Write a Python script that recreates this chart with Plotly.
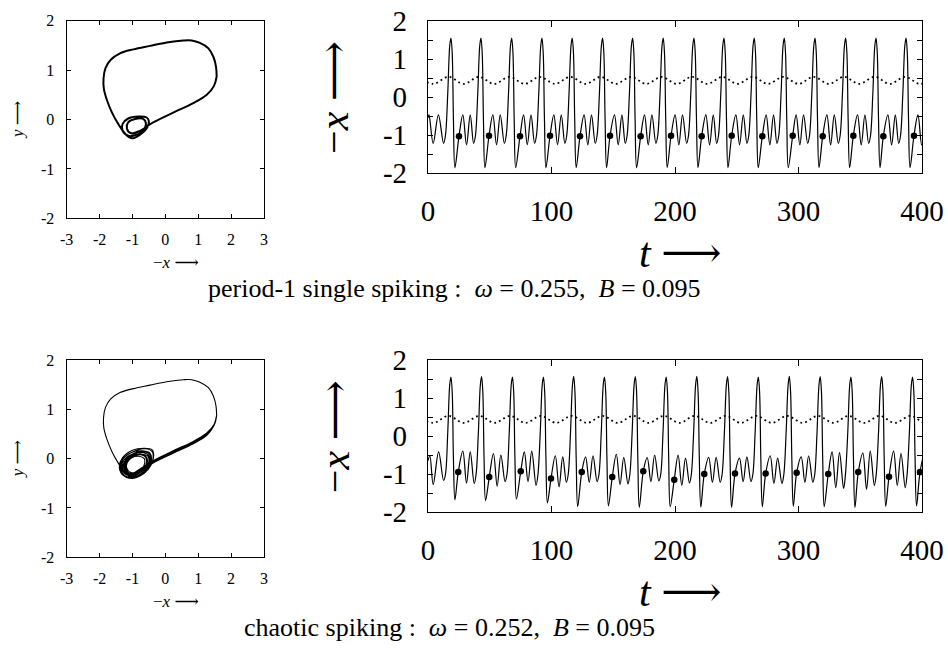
import plotly.graph_objects as go

W, H = 948, 651
FONT = "Liberation Serif"

# ------------------------------------------------------------------
# Time-series data
# ------------------------------------------------------------------
cyc_pre_dt = [-6.0, -4.5, -2.6, -1.0, 0.0, 1.0, 2.0, 3.2]
cyc_post_dt = [9.6, 12.6, 15.6]
cyc_mid_vals = [-1.02, 0.10, 1.35]
cyc_fall_vals = [1.15, -0.60]

p1_lead_t = [0.0, 0.8, 4.2, 8.4]
p1_lead_x = [-0.55, -0.47, -1.22, -0.47]
p1_spike_t = [18.6, 42.9, 67.8, 92.3, 116.8, 141.4, 165.7, 190.5,
              215.4, 239.7, 264.2, 288.5, 313.4, 338.2, 362.8, 387.1]
p1_trough_pre = [-1.22] * 16
p1_peak = [1.55] * 16
p1_min = [-1.86] * 16
p1_pA = [-0.47] * 16
p1_tA = [-1.26] * 16
p1_pB = [-0.47] * 16
p1_dot_t = [25.1, 49.4, 74.5, 98.8, 123.1, 147.4, 172.2, 196.8,
            221.6, 245.9, 270.7, 295.3, 319.6, 344.4, 368.7, 393.5]
p1_dot_x = [-1.03, -1.02, -1.03, -1.02, -1.03, -1.02, -1.03, -1.02,
            -1.03, -1.02, -1.03, -1.02, -1.03, -1.02, -1.03, -1.02]
p1_fmax_t = [-8.0, 16.6, 41.2, 65.9, 90.5, 115.2, 139.8, 164.4, 189.1,
             213.7, 238.4, 263.0, 287.6, 312.3, 336.9, 361.6, 386.2, 410.8]
p1_fmin_t = [4.3, 28.9, 53.6, 78.2, 102.8, 127.5, 152.1, 176.8, 201.4,
             226.0, 250.7, 275.3, 300.0, 324.6, 349.2, 373.9, 398.5]

ch_lead_t = [0.0, 1.5, 4.2, 8.6]
ch_lead_x = [-0.65, -0.52, -1.28, -0.42]
ch_spike_t = [18.6, 43.4, 68.4, 93.5, 118.0, 142.9, 167.9, 192.9,
              217.7, 242.6, 267.5, 292.6, 317.6, 342.5, 367.4, 392.4]
ch_trough_pre = [-1.17, -1.25, -1.20, -1.30, -1.22, -1.20, -1.26, -1.18,
                 -1.24, -1.22, -1.20, -1.25, -1.22, -1.38, -1.30, -1.36]
ch_peak = [1.55, 1.56, 1.55, 1.55, 1.57, 1.55, 1.56, 1.55,
           1.57, 1.56, 1.55, 1.57, 1.56, 1.55, 1.56, 1.55]
ch_min = [-1.68, -1.70, -1.66, -1.76, -1.86, -1.84, -1.88, -1.86,
          -1.87, -1.88, -1.86, -1.85, -1.86, -1.88, -1.85, -1.84]
ch_pA = [-0.40, -0.46, -0.42, -0.52, -0.55, -0.48, -0.57, -0.50,
         -0.56, -0.58, -0.52, -0.55, -0.42, -0.45, -0.40, -0.46]
ch_tA = [-1.24, -1.32, -1.20, -1.34, -1.22, -1.28, -1.20, -1.30,
         -1.22, -1.20, -1.25, -1.22, -1.36, -1.40, -1.30, -1.38]
ch_pB = [-0.42, -0.50, -0.40, -0.55, -0.52, -0.56, -0.50, -0.58,
         -0.56, -0.55, -0.58, -0.52, -0.44, -0.40, -0.46, -0.42]
ch_dot_t = [24.5, 49.6, 75.1, 99.6, 124.5, 149.2, 174.3, 199.4,
            223.7, 248.6, 273.4, 298.5, 324.1, 348.4, 373.3, 398.4]
ch_dot_x = [-0.95, -1.08, -0.93, -1.12, -0.95, -1.08, -0.93, -1.15,
            -1.00, -0.99, -0.99, -0.97, -1.00, -0.95, -1.07, -0.95]
ch_fmax_t = [-8.3, 16.6, 41.5, 66.5, 91.4, 116.3, 141.3, 166.2, 191.1,
             216.0, 241.0, 265.9, 290.8, 315.8, 340.7, 365.6, 390.6, 415.5]
ch_fmin_t = [4.1, 29.0, 54.0, 78.9, 103.8, 128.8, 153.7, 178.6, 203.6,
             228.5, 253.4, 278.4, 303.3, 328.2, 353.2, 378.1, 403.0]

f_max_val = 0.53
f_min_val = 0.345

# ------------------------------------------------------------------
# Phase-portrait data (-x, y)
# ------------------------------------------------------------------
top_arc_x = [1.56, 1.54, 1.46, 1.31, 1.05, 0.80, 0.55, 0.04, -0.47, -0.97,
             -1.38, -1.66, -1.82, -1.88]
top_arc_y = [0.87, 1.07, 1.27, 1.44, 1.55, 1.60, 1.60, 1.56, 1.49, 1.42,
             1.34, 1.21, 1.04, 0.83]
left_br_x = [-1.87, -1.78, -1.63, -1.45, -1.28, -1.12, -0.97]
left_br_y = [0.62, 0.40, 0.15, -0.07, -0.24, -0.35, -0.38]

p1_loop_x = [-0.77, -0.57, -0.50, -0.57, -0.82, -1.13, -1.30, -1.30, -1.13,
             -0.92, -0.69, -0.59, -0.67, -0.92, -1.13, -1.17, -1.04]
p1_loop_y = [-0.31, -0.18, -0.04, 0.04, 0.06, 0.02, -0.09, -0.23, -0.33,
             -0.32, -0.23, -0.09, 0.01, 0.01, -0.06, -0.18, -0.28]
p1_low_x = [-0.77, -0.37, 0.24, 0.85, 1.26, 1.48, 1.56]
p1_low_y = [-0.23, -0.06, 0.14, 0.33, 0.50, 0.68, 0.87]

ch_loops_x = [
    [-0.80, -0.52, -0.38, -0.40, -0.62, -0.98, -1.28, -1.38, -1.25, -0.98,
     -0.70, -0.52, -0.50, -0.66, -0.98, -1.22, -1.24, -1.05],
    [-0.80, -0.56, -0.44, -0.47, -0.68, -1.02, -1.26, -1.33, -1.20, -0.97,
     -0.72, -0.58, -0.60, -0.75, -1.00, -1.18, -1.20, -1.05],
    [-0.80, -0.60, -0.50, -0.53, -0.72, -1.03, -1.24, -1.30, -1.17, -0.96,
     -0.75, -0.63, -0.64, -0.80, -1.02, -1.16, -1.17, -1.05],
    [-0.78, -0.48, -0.42, -0.48, -0.72, -1.05, -1.30, -1.35, -1.22, -0.95,
     -0.68, -0.56, -0.56, -0.70, -0.98, -1.20, -1.22, -1.06],
    [-0.79, -0.50, -0.36, -0.40, -0.65, -1.00, -1.30, -1.40, -1.30, -1.00,
     -0.68, -0.50, -0.47, -0.62, -0.95, -1.20, -1.26, -1.08],
]
ch_loops_y = [
    [-0.36, -0.22, -0.02, 0.14, 0.20, 0.14, 0.00, -0.18, -0.34, -0.38,
     -0.28, -0.10, 0.06, 0.12, 0.08, -0.06, -0.22, -0.32],
    [-0.34, -0.22, -0.05, 0.09, 0.14, 0.09, -0.03, -0.19, -0.32, -0.35,
     -0.26, -0.10, 0.03, 0.08, 0.04, -0.07, -0.21, -0.30],
    [-0.33, -0.22, -0.06, 0.05, 0.09, 0.05, -0.06, -0.20, -0.31, -0.33,
     -0.25, -0.10, 0.00, 0.05, 0.02, -0.08, -0.20, -0.28],
    [-0.32, -0.16, 0.00, 0.12, 0.16, 0.12, -0.02, -0.20, -0.35, -0.37,
     -0.27, -0.12, 0.02, 0.09, 0.06, -0.05, -0.20, -0.31],
    [-0.35, -0.20, 0.02, 0.18, 0.21, 0.17, 0.02, -0.16, -0.33, -0.40,
     -0.30, -0.10, 0.08, 0.15, 0.11, -0.02, -0.20, -0.33],
]
ch_low_x = [-0.77, -0.37, 0.24, 0.85, 1.26, 1.48, 1.56]
ch_low_y = [
    [-0.24, -0.07, 0.13, 0.32, 0.49, 0.68, 0.87],
    [-0.22, -0.05, 0.15, 0.34, 0.51, 0.69, 0.87],
    [-0.26, -0.09, 0.11, 0.30, 0.47, 0.67, 0.86],
    [-0.21, -0.04, 0.16, 0.35, 0.52, 0.69, 0.88],
    [-0.25, -0.08, 0.12, 0.31, 0.48, 0.67, 0.86],
]

ts_yticks = [-2, -1.5, -1, -0.5, 0, 0.5, 1, 1.5, 2]
ts_yticktext = ["-2", "", "-1", "", "0", "", "1", "", "2"]
ts_xticks = [0, 100, 200, 300, 400]
ts_xticktext = ["0", "100", "200", "300", "400"]
ph_xticks = [-3, -2, -1, 0, 1, 2, 3]
ph_xticktext = ["-3", "-2", "-1", "0", "1", "2", "3"]
ph_yticks = [-2, -1, 0, 1, 2]
ph_yticktext = ["-2", "-1", "0", "1", "2"]

captions = ["period-1 single spiking :  <i>ω</i> = 0.255,  <i>B</i> = 0.095",
            "chaotic spiking :  <i>ω</i> = 0.252,  <i>B</i> = 0.095"]


def build_series(lead_t, lead_x, spikes, trough, peak, mn, pA, tA, pB, dot_t, dot_x):
    t, x = list(lead_t), list(lead_x)
    for k, s in enumerate(spikes):
        pre_vals = [trough[k]] + cyc_mid_vals + [peak[k]] + cyc_fall_vals + [mn[k]]
        for dt, v in zip(cyc_pre_dt, pre_vals):
            t.append(s + dt)
            x.append(v)
        t.append(dot_t[k])
        x.append(dot_x[k])
        for dt, v in zip(cyc_post_dt, [pA[k], tA[k], pB[k]]):
            t.append(s + dt)
            x.append(v)
    return t, x


def build_forcing(max_t, min_t):
    pts = [(tt, f_max_val) for tt in max_t] + [(tt, f_min_val) for tt in min_t]
    pts.sort()
    return [p[0] for p in pts], [p[1] for p in pts]


def build_phase(loops_x, loops_y, lows_x, lows_y):
    X, Y = [], []
    for lx, ly, wx, wy in zip(loops_x, loops_y, lows_x, lows_y):
        X += top_arc_x + left_br_x + lx + wx
        Y += top_arc_y + left_br_y + ly + wy
    X.append(top_arc_x[0])
    Y.append(top_arc_y[0])
    return X, Y


fig = go.Figure()

p1_t, p1_x = build_series(p1_lead_t, p1_lead_x, p1_spike_t, p1_trough_pre, p1_peak,
                          p1_min, p1_pA, p1_tA, p1_pB, p1_dot_t, p1_dot_x)
ch_t, ch_x = build_series(ch_lead_t, ch_lead_x, ch_spike_t, ch_trough_pre, ch_peak,
                          ch_min, ch_pA, ch_tA, ch_pB, ch_dot_t, ch_dot_x)
f1_t, f1_v = build_forcing(p1_fmax_t, p1_fmin_t)
f2_t, f2_v = build_forcing(ch_fmax_t, ch_fmin_t)

ph1_x, ph1_y = build_phase([p1_loop_x], [p1_loop_y], [p1_low_x], [p1_low_y])
ph2_x, ph2_y = build_phase(ch_loops_x, ch_loops_y, [ch_low_x] * len(ch_low_y), ch_low_y)

line_style = dict(color="black", width=1.2, shape="spline", smoothing=1.0)
dot_style = dict(color="black", width=1.8, dash="1.8px,3.2px", shape="spline")

fig.add_trace(go.Scatter(x=ph1_x, y=ph1_y, mode="lines", xaxis="x", yaxis="y",
                         line=dict(color="black", width=2, shape="spline", smoothing=1.0)))
fig.add_trace(go.Scatter(x=ph2_x, y=ph2_y, mode="lines", xaxis="x3", yaxis="y3",
                         line=dict(color="black", width=1.1, shape="spline", smoothing=1.0)))
fig.add_trace(go.Scatter(x=f1_t, y=f1_v, mode="lines", xaxis="x2", yaxis="y2", line=dot_style))
fig.add_trace(go.Scatter(x=p1_t, y=p1_x, mode="lines", xaxis="x2", yaxis="y2", line=line_style))
fig.add_trace(go.Scatter(x=p1_dot_t, y=p1_dot_x, mode="markers", xaxis="x2", yaxis="y2",
                         marker=dict(color="black", size=6.5)))
fig.add_trace(go.Scatter(x=f2_t, y=f2_v, mode="lines", xaxis="x4", yaxis="y4", line=dot_style))
fig.add_trace(go.Scatter(x=ch_t, y=ch_x, mode="lines", xaxis="x4", yaxis="y4", line=line_style))
fig.add_trace(go.Scatter(x=ch_dot_t, y=ch_dot_x, mode="markers", xaxis="x4", yaxis="y4",
                         marker=dict(color="black", size=6.5)))


def fx(p):
    return p / W


def fy(p):
    return 1 - p / H


base = dict(showline=True, linecolor="black", linewidth=1.3, mirror="ticks",
            ticks="inside", tickcolor="black", tickwidth=1, showgrid=False,
            zeroline=False, fixedrange=True, tickmode="array", automargin=False)

ph_font = dict(family=FONT, size=16, color="black")
ts_font = dict(family=FONT, size=29, color="black")

ph_x_dom = [fx(66.7), fx(264)]
ts_x_dom = [fx(428), fx(922)]

layout_axes = {}
for i, (ph_top, ph_bot, ts_top, ts_bot) in enumerate([(20.7, 218.3, 21, 173),
                                                       (360, 557.3, 360, 512)]):
    a = 2 * i + 1
    b = 2 * i + 2
    sx = "" if a == 1 else str(a)
    layout_axes["xaxis" + sx] = dict(base, domain=ph_x_dom, range=[-3, 3], anchor="y" + sx,
                                     tickvals=ph_xticks, ticktext=ph_xticktext, ticklen=4,
                                     tickfont=ph_font, ticklabelstandoff=6)
    layout_axes["yaxis" + sx] = dict(base, domain=[fy(ph_bot), fy(ph_top)], range=[-2, 2],
                                     anchor="x" + sx, tickvals=ph_yticks, ticktext=ph_yticktext,
                                     ticklen=4, tickfont=ph_font, ticklabelstandoff=8)
    layout_axes["xaxis" + str(b)] = dict(base, domain=ts_x_dom, range=[0, 400], anchor="y" + str(b),
                                         tickvals=ts_xticks, ticktext=ts_xticktext, ticklen=6,
                                         tickfont=ts_font, ticklabelstandoff=12)
    layout_axes["yaxis" + str(b)] = dict(base, domain=[fy(ts_bot), fy(ts_top)], range=[-2, 2],
                                         anchor="x" + str(b), tickvals=ts_yticks,
                                         ticktext=ts_yticktext, ticklen=5, tickfont=ts_font,
                                         ticklabelstandoff=14)

fig.update_layout(**layout_axes)


def ann(text, x, y, size, angle=0):
    return dict(text=text, x=fx(x), y=fy(y), xref="paper", yref="paper", showarrow=False,
                xanchor="center", yanchor="middle", textangle=angle,
                font=dict(family=FONT, size=size, color="black"))


ARROW = "<span style=\"font-family:'DejaVu Serif'\">⟶</span>"

annotations = []
for off, cap, capx in [(0, captions[0], 454), (339.3, captions[1], 449)]:
    annotations.append(ann("<i>y</i> " + ARROW, 17, 120 + off, 17, -90))
    annotations.append(ann("−<i>x</i> " + ARROW, 176, 262 + off, 17))
    annotations.append(ann("−<i>x</i> " + ARROW, 334, 98 + off, 42, -90))
    annotations.append(ann("<i>t</i> " + ARROW, 680, 252 + off, 42))
    annotations.append(ann(cap, capx, 288 + off, 26))

fig.update_layout(width=W, height=H, margin=dict(l=0, r=0, t=0, b=0, autoexpand=False),
                  paper_bgcolor="white", plot_bgcolor="white", showlegend=False,
                  annotations=annotations)

fig.write_html("out.html")
